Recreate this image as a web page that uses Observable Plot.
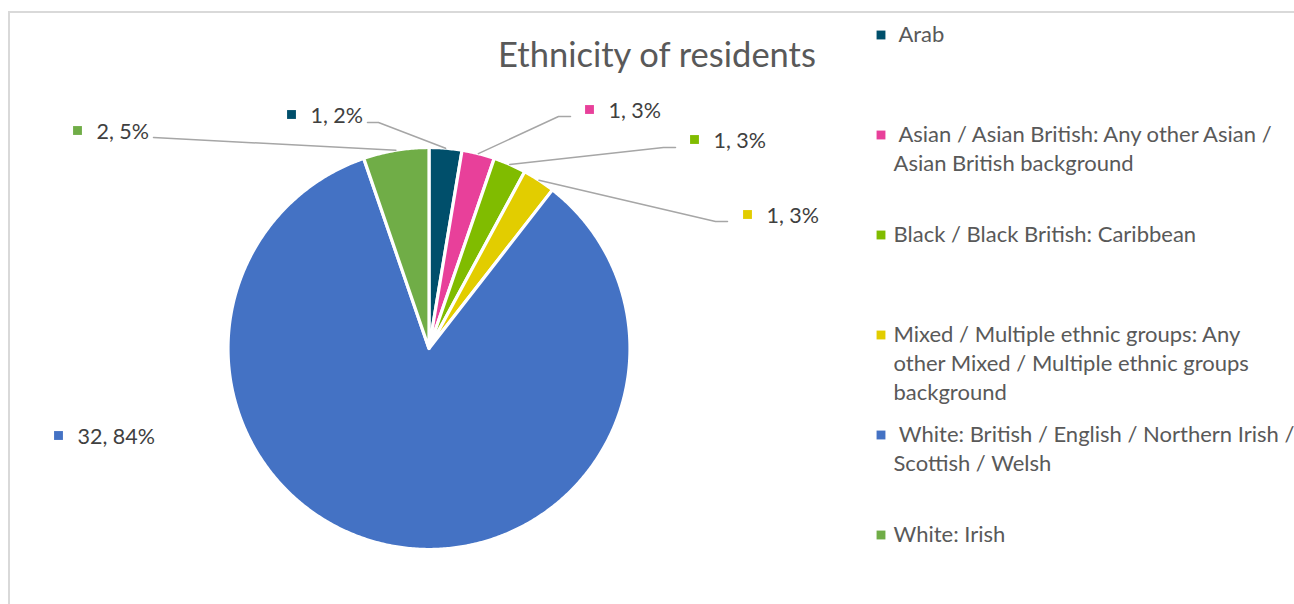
<!DOCTYPE html>
<html>
<head>
<meta charset="utf-8">
<script src="https://cdn.jsdelivr.net/npm/d3@7"></script>
<script src="https://cdn.jsdelivr.net/npm/@observablehq/plot@0.6"></script>
<style>
  html, body { margin: 0; padding: 0; background: #ffffff; width: 1294px; height: 604px; overflow: hidden; }
  #frame { position: absolute; left: 8px; top: 11px; width: 1300px; height: 610px; border: 2px solid #d9d9d9; box-sizing: border-box; }
  #chart { position: absolute; left: 0; top: 0; }
  #chart svg text { white-space: pre; }
</style>
</head>
<body>
<div id="frame"></div>
<div id="chart"></div>
<script>
// ---- data ----
const title = "Ethnicity of residents";
const categories = [
  "Arab",
  "Asian / Asian British: Any other Asian / Asian British background",
  "Black / Black British: Caribbean",
  "Mixed / Multiple ethnic groups: Any other Mixed / Multiple ethnic groups background",
  "White: British / English / Northern Irish / Scottish / Welsh",
  "White: Irish"
];
const values = [1, 1, 1, 1, 32, 2];
const percentLabels = ["2%", "3%", "3%", "3%", "84%", "5%"];
const colors = ["#004f6b", "#e8409a", "#80bc00", "#e2cd00", "#4472c4", "#70ad47"];
// legend text as wrapped in the reference
const legendLines = [
  [" Arab"],
  [" Asian / Asian British: Any other Asian /", "Asian British background"],
  ["Black / Black British: Caribbean"],
  ["Mixed / Multiple ethnic groups: Any", "other Mixed / Multiple ethnic groups", "background"],
  [" White: British / English / Northern Irish /", "Scottish / Welsh"],
  ["White: Irish"]
];

// ---- layout (pixels) ----
const W = 1294, H = 604;
const pie = {cx: 428.5, cy: 348, r: 201};
// data label text start (x) / baseline (y); elbow = start of leader line near the label
const labelLayout = [
  {x: 310, y: 122, elbow: [[367, 122], [378, 122]]},
  {x: 608, y: 117, elbow: [[570, 116], [558, 116]]},
  {x: 713, y: 147, elbow: [[675, 147], [663, 147]]},
  {x: 766, y: 222, elbow: [[727, 221], [715, 221]]},
  {x: 77,  y: 443, elbow: null},
  {x: 96,  y: 138, elbow: [[153, 137]]}
];
const legendLayout = {x: 893, squareX: 880.5, firstBaseline: 41, step: 100, lineHeight: 29};

// ---- build ----
const rows = categories.map((c, i) => ({name: c, value: values[i], pct: percentLabels[i], color: colors[i], i}));
const arcs = d3.pie().sort(null).value(d => d.value).startAngle(0).endAngle(2 * Math.PI)(rows);
const px = a => pie.cx + pie.r * Math.sin(a);
const py = a => pie.cy - pie.r * Math.cos(a);

const slicePts = [];
arcs.forEach(a => {
  slicePts.push({name: a.data.name, x: pie.cx, y: pie.cy});
  const n = Math.max(2, Math.ceil((a.endAngle - a.startAngle) / (Math.PI / 360)));
  for (let k = 0; k <= n; k++) {
    const t = a.startAngle + (a.endAngle - a.startAngle) * k / n;
    slicePts.push({name: a.data.name, x: px(t), y: py(t)});
  }
});

const leaderPts = [];
arcs.forEach((a, i) => {
  const L = labelLayout[i];
  if (!L.elbow) return;
  L.elbow.forEach(p => leaderPts.push({name: a.data.name, x: p[0], y: p[1]}));
  const mid = (a.startAngle + a.endAngle) / 2;
  leaderPts.push({name: a.data.name, x: px(mid), y: py(mid)});
});

const dataLabels = rows.map((d, i) => ({
  text: `${d.value}, ${d.pct}`, color: d.color,
  x: labelLayout[i].x, y: labelLayout[i].y
}));

const legendText = [];
const legendSquares = [];
legendLines.forEach((lines, i) => {
  const base = legendLayout.firstBaseline + i * legendLayout.step;
  legendSquares.push({x: legendLayout.squareX, y: base - 6.5, color: colors[i]});
  lines.forEach((t, k) => legendText.push({text: t, x: legendLayout.x, y: base + k * legendLayout.lineHeight}));
});

const FONT = "Lato, 'Open Sans', sans-serif";

const chart = Plot.plot({
  width: W, height: H,
  margin: 0,
  style: {fontFamily: FONT, background: "transparent", overflow: "visible"},
  x: {domain: [0, W], range: [0, W], axis: null},
  y: {domain: [0, H], range: [0, H], axis: null},
  color: {domain: categories, range: colors},
  marks: [
    // slices
    Plot.line(slicePts, {x: "x", y: "y", z: "name", fill: "name", stroke: "#ffffff", strokeWidth: 3.2, curve: "linear-closed"}),
    // leader lines
    Plot.line(leaderPts, {x: "x", y: "y", z: "name", stroke: "#a6a6a6", strokeWidth: 1.5}),
    // data label markers + text
    Plot.dot(dataLabels, {x: d => d.x - 19, y: d => d.y - 8, symbol: "square", r: 5, fill: d => d.color, stroke: "none"}),
    Plot.text(dataLabels, {x: "x", y: "y", text: "text", textAnchor: "start", lineAnchor: "bottom", fontSize: 21.5, fill: "#404040"}),
    // title
    Plot.text([title], {x: () => 656.5, y: () => 66.5, text: d => d, textAnchor: "middle", lineAnchor: "bottom", fontSize: 34.5, fill: "#595959"}),
    // legend
    Plot.dot(legendSquares, {x: "x", y: "y", symbol: "square", r: 5, fill: d => d.color, stroke: "none"}),
    Plot.text(legendText, {x: "x", y: "y", text: "text", textAnchor: "start", lineAnchor: "bottom", fontSize: 22, fill: "#595959"})
  ]
});
document.getElementById("chart").appendChild(chart);
</script>
</body>
</html>
